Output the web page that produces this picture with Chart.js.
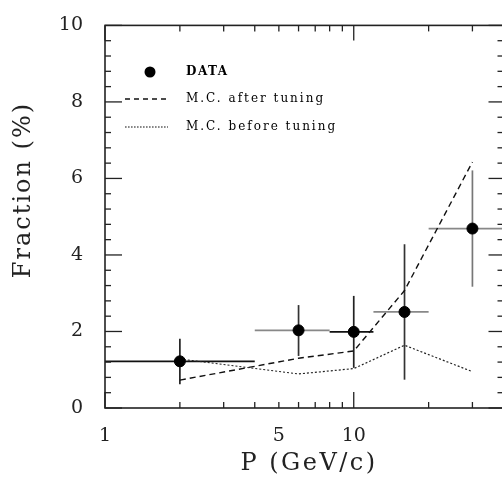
<!DOCTYPE html>
<html>
<head>
<meta charset="utf-8">
<script src="https://cdn.jsdelivr.net/npm/chart.js@4.4.1/dist/chart.umd.min.js"></script>
<style>
  html, body { margin: 0; padding: 0; overflow: hidden; background: #fff; }
</style>
</head>
<body>
<canvas id="chart" width="510" height="483"></canvas>
<script>
// momentum bins (GeV/c) and measured fraction (%)
const momentum = [2, 6, 10, 16, 30];
const momLow = [1, 4, 8, 12, 20];
const momHigh = [4, 8, 12, 20, 40];
const dataFrac = [1.22, 2.03, 1.99, 2.51, 4.69];
const fracLow = [0.62, 1.36, 1.05, 0.74, 3.17];
const fracHigh = [1.81, 2.69, 2.93, 4.28, 6.21];
// monte carlo
const mcAfter = [0.73, 1.30, 1.49, 3.07, 6.43];
const mcBefore = [1.28, 0.89, 1.03, 1.64, 0.95];
// axes
const xTickLabels = [1, 5, 10];
const xMinorTicks = [2, 3, 4, 5, 6, 7, 8, 9, 20, 30];
const xMajorTicks = [1, 10];
const yTickLabels = [0, 2, 4, 6, 8, 10];
const yMinorStep = 0.4;

const errColorsH = ['#111', '#888', '#111', '#888', '#888'];
const errColorsV = ['#222', '#333', '#222', '#333', '#777'];

function line(ctx, x1, y1, x2, y2) {
    ctx.beginPath();
    ctx.moveTo(x1, y1);
    ctx.lineTo(x2, y2);
    ctx.stroke();
}

const framePlugin = {
    id: 'frame',
    beforeDatasetsDraw(chart) {
        const { ctx, scales: { x, y } } = chart;
        ctx.save();
        ctx.lineWidth = 1.7;
        momentum.forEach((m, i) => {
            ctx.strokeStyle = errColorsH[i];
            line(ctx, x.getPixelForValue(momLow[i]), y.getPixelForValue(dataFrac[i]),
                 x.getPixelForValue(momHigh[i]), y.getPixelForValue(dataFrac[i]));
            ctx.strokeStyle = errColorsV[i];
            line(ctx, x.getPixelForValue(m), y.getPixelForValue(fracLow[i]),
                 x.getPixelForValue(m), y.getPixelForValue(fracHigh[i]));
        });
        ctx.restore();
    },
    afterDraw(chart) {
        const { ctx, chartArea: a, scales: { x, y } } = chart;
        ctx.save();
        ctx.strokeStyle = '#222';
        ctx.lineWidth = 1.6;
        ctx.strokeRect(a.left, a.top, a.right - a.left, a.bottom - a.top);

        // y ticks, left and right, pointing inward
        ctx.lineWidth = 1.3;
        for (let i = 0; i * yMinorStep <= 10.001; i++) {
            const v = i * yMinorStep;
            const py = y.getPixelForValue(v);
            const major = yTickLabels.some((t) => Math.abs(t - v) < 1e-6);
            line(ctx, a.left, py, a.left + (major ? 17 : 6), py);
            line(ctx, a.right, py, a.right - (major ? 15 : 6), py);
        }
        // x ticks, bottom and top
        xMinorTicks.forEach((v) => {
            const px = x.getPixelForValue(v);
            line(ctx, px, a.bottom, px, a.bottom - 6);
            line(ctx, px, a.top, px, a.top + 6);
        });
        xMajorTicks.forEach((v) => {
            const px = x.getPixelForValue(v);
            line(ctx, px, a.bottom, px, a.bottom - 16);
            line(ctx, px, a.top, px, a.top + 15);
        });

        // legend
        ctx.fillStyle = '#000';
        ctx.beginPath();
        ctx.arc(150, 72, 5.5, 0, Math.PI * 2);
        ctx.fill();
        ctx.strokeStyle = '#111';
        ctx.lineWidth = 1.4;
        ctx.setLineDash([5, 4]);
        line(ctx, 125, 99, 168, 99);
        ctx.lineWidth = 1.2;
        ctx.setLineDash([1.6, 1.4]);
        line(ctx, 125, 127, 168, 127);
        ctx.setLineDash([]);
        ctx.textBaseline = 'middle';
        ctx.textAlign = 'left';
        ctx.letterSpacing = '1.5px';
        ctx.font = '600 12px "DejaVu Serif"';
        ctx.fillText('DATA', 186, 72);
        ctx.letterSpacing = '2px';
        ctx.font = '12px "DejaVu Serif"';
        ctx.fillText('M.C. after tuning', 186, 99);
        ctx.fillText('M.C. before tuning', 186, 127);

        // axis titles
        ctx.fillStyle = '#222';
        ctx.textAlign = 'center';
        ctx.font = '24px "DejaVu Serif"';
        ctx.letterSpacing = '2.5px';
        ctx.fillText('P (GeV/c)', 309, 464);
        ctx.translate(24, 190);
        ctx.rotate(-Math.PI / 2);
        ctx.letterSpacing = '2px';
        ctx.fillText('Fraction (%)', 0, 0);
        ctx.restore();
    }
};

const ctx = document.getElementById('chart').getContext('2d');
new Chart(ctx, {
    type: 'scatter',
    data: {
        datasets: [
            {
                label: 'DATA',
                data: momentum.map((m, i) => ({ x: m, y: dataFrac[i] })),
                backgroundColor: '#000',
                borderColor: '#000',
                pointRadius: 5.5,
                showLine: false,
                order: 0,
            },
            {
                label: 'M.C. after tuning',
                type: 'line',
                data: momentum.map((m, i) => ({ x: m, y: mcAfter[i] })),
                borderColor: '#111',
                borderWidth: 1.4,
                borderDash: [6, 4],
                pointRadius: 0,
                fill: false,
                tension: 0,
                order: 1,
            },
            {
                label: 'M.C. before tuning',
                type: 'line',
                data: momentum.map((m, i) => ({ x: m, y: mcBefore[i] })),
                borderColor: '#222',
                borderWidth: 1.2,
                borderDash: [2, 2],
                pointRadius: 0,
                fill: false,
                tension: 0,
                order: 2,
            },
        ],
    },
    options: {
        responsive: false,
        animation: false,
        layout: { padding: { left: 0, top: 13, right: 6, bottom: 0 } },
        plugins: {
            legend: { display: false },
            tooltip: { enabled: false },
        },
        scales: {
            x: {
                type: 'logarithmic',
                min: 1,
                max: 40,
                grid: { display: false },
                border: { display: false },
                afterBuildTicks: (scale) => {
                    scale.ticks = xTickLabels.map((v) => ({ value: v }));
                },
                afterFit: (scale) => { scale.height = 75; },
                ticks: {
                    autoSkip: false,
                    maxRotation: 0,
                    padding: 9,
                    color: '#222',
                    font: { family: '"DejaVu Serif"', size: 19 },
                    callback: (v) => String(v),
                },
            },
            y: {
                min: 0,
                max: 10,
                grid: { display: false },
                border: { display: false },
                afterBuildTicks: (scale) => {
                    scale.ticks = yTickLabels.map((v) => ({ value: v }));
                },
                afterFit: (scale) => { scale.width = 105; },
                ticks: {
                    padding: 14,
                    color: '#222',
                    font: { family: '"DejaVu Serif"', size: 19 },
                },
            },
        },
    },
    plugins: [framePlugin],
});
</script>
</body>
</html>
